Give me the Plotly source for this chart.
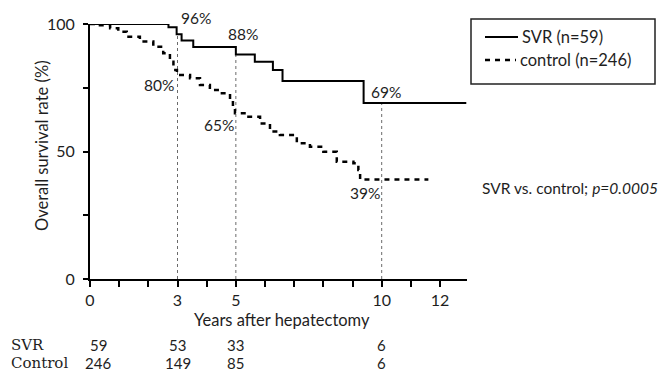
import plotly.graph_objects as go

# Kaplan-Meier step data (years after hepatectomy, overall survival %)
svr_years = [0, 2.69, 2.97, 3.14, 3.54, 5.0, 5.65, 6.27, 6.6, 9.38, 12.9]
svr_surv = [100, 98.7, 96, 93.5, 91, 88, 85.2, 82, 77.6, 69, 69]

ctrl_years = [0, 0.34, 0.69, 0.97, 1.26, 1.71, 2.17, 2.51, 2.74, 2.86, 2.98,
              3.43, 3.77, 4.11, 4.46, 4.8, 4.9, 4.97, 5.37, 5.83, 6.17, 6.51,
              7.09, 7.54, 8.0, 8.46, 9.03, 9.2, 9.26, 11.6]
ctrl_surv = [100, 99.5, 98.3, 97, 95, 93.1, 91.1, 88.5, 85.2, 82, 80,
             78.7, 76.1, 74.1, 72.8, 70.2, 67.6, 65, 63.6, 61, 57.8, 56.5,
             53.2, 51.9, 49.9, 46, 45.4, 42.7, 39, 39]

landmark_years = [3, 5, 10]

x_tick_vals = list(range(0, 13))
x_tick_text = ["0", "", "", "3", "", "5", "", "", "", "", "10", "", "12"]
y_tick_vals = [0, 25, 50, 75, 100]
y_tick_text = ["0", "", "50", "", "100"]

at_risk_years = [0, 3, 5, 10]
svr_at_risk = [59, 53, 33, 6]
ctrl_at_risk = [246, 149, 85, 6]

svr_label = "SVR (n=59)"
ctrl_label = "control (n=246)"

FONT = "Lato"
INK = "#1e1e1e"
W, H = 667, 378
L, R, T, B = 90, 200, 24, 99
PW, PH = W - L - R, H - T - B


def px(x):
    return (x - L) / PW


def py(y):
    return (H - B - y) / PH


def step_value(years, surv, t):
    v = surv[0]
    for yr, s in zip(years, surv):
        if yr <= t:
            v = s
    return v


fig = go.Figure()

# landmark verticals up to the SVR curve
for yr in landmark_years:
    fig.add_trace(go.Scatter(
        x=[yr, yr], y=[0, step_value(svr_years, svr_surv, yr)],
        mode="lines", line=dict(color="#6a6a6a", width=1, dash="dot"),
        showlegend=False, hoverinfo="skip", cliponaxis=False))

fig.add_trace(go.Scatter(
    x=ctrl_years, y=ctrl_surv, mode="lines", line_shape="hv",
    line=dict(color="black", width=2.5, dash="5px,5px"),
    showlegend=False, cliponaxis=False))
fig.add_trace(go.Scatter(
    x=svr_years, y=svr_surv, mode="lines", line_shape="hv",
    line=dict(color="black", width=2),
    showlegend=False, cliponaxis=False))

ann = []
# percentage labels at landmark years
svr_offsets = {3: ("left", "bottom", 1, 5), 5: ("center", "bottom", 7, 10),
               10: ("center", "bottom", 4, 0)}
ctrl_offsets = {3: ("right", "top", -2, 1), 5: ("right", "top", 0, -1),
                10: ("right", "top", 0, -2)}
for yr in landmark_years:
    for years, surv, offs in ((svr_years, svr_surv, svr_offsets),
                              (ctrl_years, ctrl_surv, ctrl_offsets)):
        v = step_value(years, surv, yr)
        xa, ya, xs, ys = offs[yr]
        ann.append(dict(x=yr, y=v, xref="x", yref="y", text=f"{v:g}%",
                        showarrow=False, xanchor=xa, yanchor=ya,
                        xshift=xs, yshift=ys,
                        font=dict(family=FONT, size=15.5, color=INK)))

# axis titles
ann.append(dict(x=px(282), y=py(320), xref="paper", yref="paper",
                text="Years after hepatectomy", showarrow=False,
                xanchor="center", yanchor="middle",
                font=dict(family=FONT, size=16.5, color=INK)))
ann.append(dict(x=px(42), y=py(146), xref="paper", yref="paper",
                text="Overall survival rate (%)", showarrow=False, textangle=-90,
                xanchor="center", yanchor="middle",
                font=dict(family=FONT, size=16.5, color=INK)))

# numbers at risk
for row_name, counts, ypix in (("SVR", svr_at_risk, 345),
                               ("Control", ctrl_at_risk, 363)):
    ann.append(dict(x=px(9), y=py(ypix), xref="paper", yref="paper",
                    text=row_name, showarrow=False, xanchor="left",
                    yanchor="middle",
                    font=dict(family="DejaVu Serif", size=15, color=INK)))
    for yr, n in zip(at_risk_years, counts):
        ann.append(dict(x=yr, y=py(ypix), xref="x", yref="paper", text=str(n),
                        showarrow=False, xanchor="center", yanchor="middle",
                        xshift=8 if yr == 0 else 0,
                        font=dict(family=FONT, size=15, color=INK)))

# legend
ann.append(dict(x=px(520), y=py(37), xref="paper", yref="paper",
                text=svr_label, showarrow=False, xanchor="left",
                yanchor="middle", font=dict(family=FONT, size=16.5, color=INK)))
ann.append(dict(x=px(518), y=py(60), xref="paper", yref="paper",
                text=ctrl_label, showarrow=False, xanchor="left",
                yanchor="middle", font=dict(family=FONT, size=16.5, color=INK)))

ann.append(dict(x=px(480), y=py(188), xref="paper", yref="paper",
                text="SVR vs. control; <i>p=0.0005</i>", showarrow=False,
                xanchor="left", yanchor="middle",
                font=dict(family=FONT, size=15.5, color=INK)))

shapes = [
    dict(type="rect", xref="paper", yref="paper",
         x0=px(471), x1=px(655), y0=py(84), y1=py(19),
         line=dict(color="#222", width=1.5)),
    dict(type="line", xref="paper", yref="paper",
         x0=px(485), x1=px(518), y0=py(37), y1=py(37),
         line=dict(color="black", width=2)),
    dict(type="line", xref="paper", yref="paper",
         x0=px(485), x1=px(516), y0=py(60), y1=py(60),
         line=dict(color="black", width=2.5, dash="5px,5px")),
]

fig.update_layout(
    width=W, height=H,
    margin=dict(l=L, r=R, t=T, b=B, pad=0),
    paper_bgcolor="white", plot_bgcolor="white",
    annotations=ann, shapes=shapes,
    xaxis=dict(range=[0, PW / 29.17], tickvals=x_tick_vals, ticktext=x_tick_text,
               showline=True, linecolor="black", linewidth=2,
               ticks="outside", ticklen=6, tickwidth=2, tickcolor="black",
               showgrid=False, zeroline=False, ticklabelstandoff=0,
               tickfont=dict(family=FONT, size=16, color=INK)),
    yaxis=dict(range=[0, 100], tickvals=y_tick_vals, ticktext=y_tick_text,
               showline=True, linecolor="black", linewidth=2,
               ticks="outside", ticklen=5, tickwidth=2, tickcolor="black",
               showgrid=False, zeroline=False, ticklabelstandoff=5,
               tickfont=dict(family=FONT, size=16, color=INK)),
)

fig.write_html("out.html")
